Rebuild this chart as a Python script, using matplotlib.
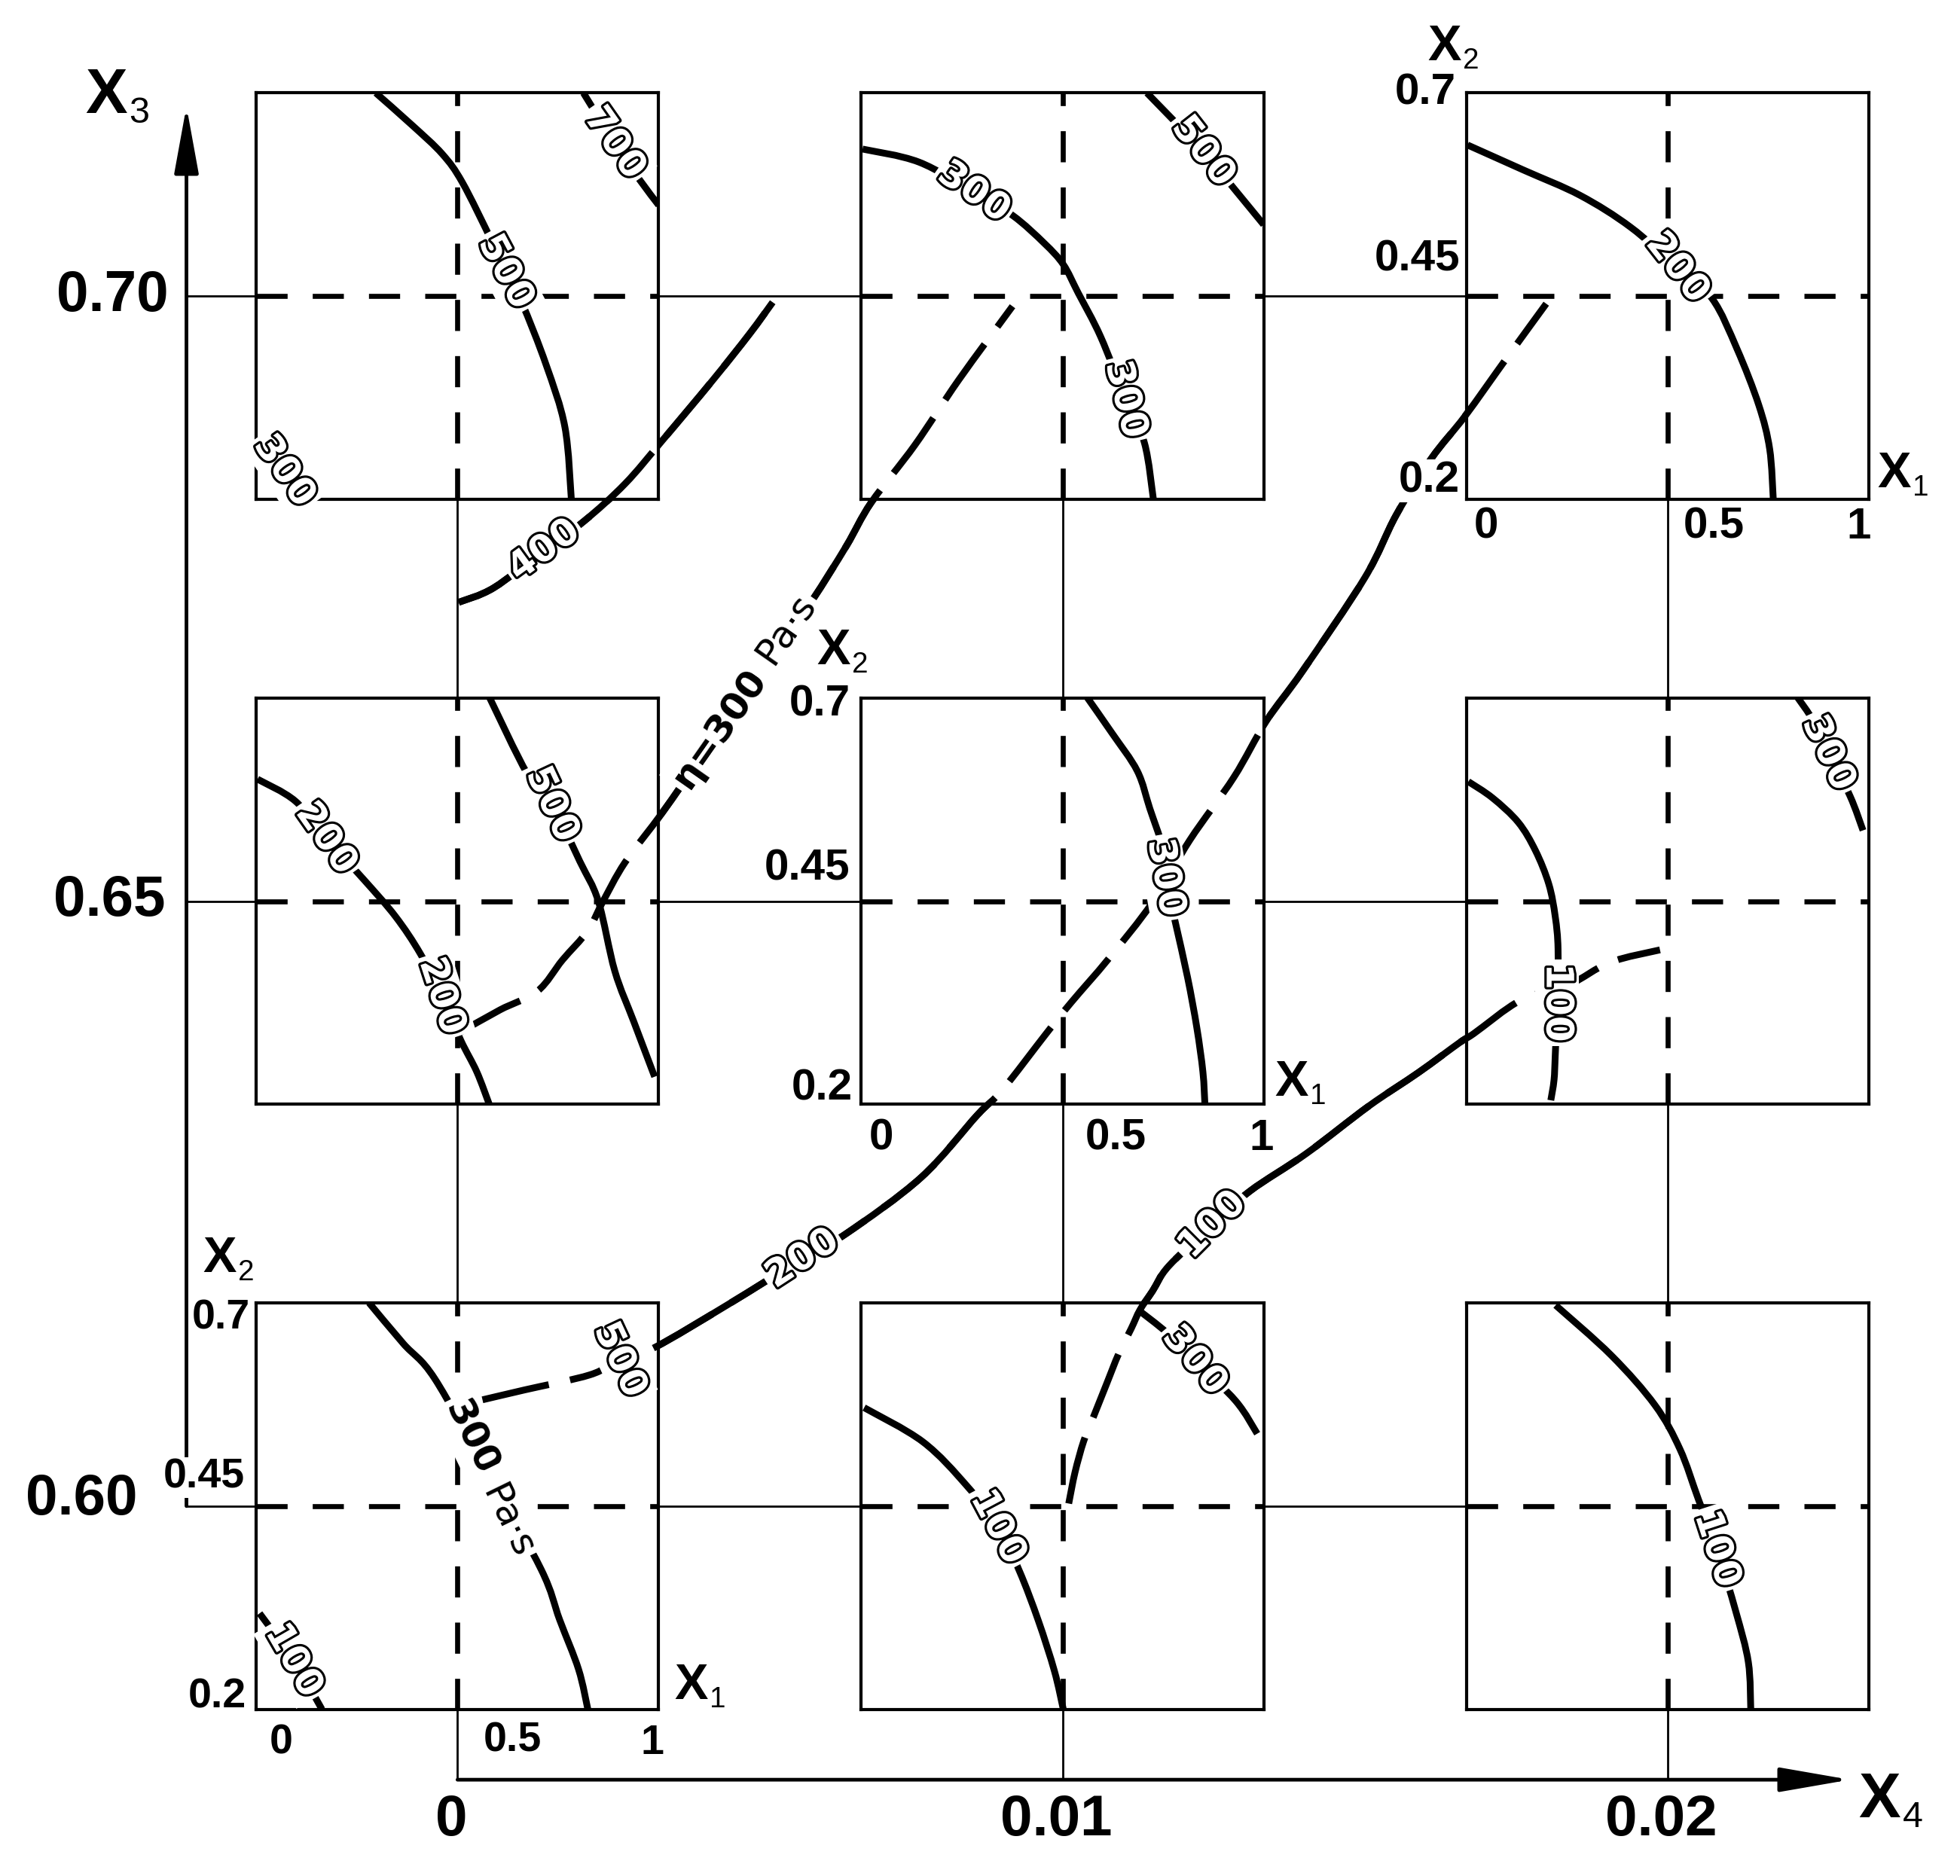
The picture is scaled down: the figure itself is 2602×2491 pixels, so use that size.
import matplotlib
matplotlib.use('Agg')
import matplotlib.pyplot as plt
import matplotlib.patheffects as pe
from matplotlib import font_manager
from matplotlib.path import Path
from matplotlib.patches import PathPatch

plt.rcParams['font.family'] = ['Liberation Sans', 'DejaVu Sans']
installed = {f.name for f in font_manager.fontManager.ttflist}
narrow_font = 'Liberation Sans Narrow' if 'Liberation Sans Narrow' in installed else 'Liberation Sans'

# outer factors: X4 along columns, X3 along rows
x4_levels = [0.0, 0.01, 0.02]
x3_levels = [0.60, 0.65, 0.70]
x4_labels = ['0', '0.01', '0.02']
x3_labels = ['0.60', '0.65', '0.70']

# inner panels: X1 across, X2 up
x1_lim = (0.0, 1.0)
x2_lim = (0.2, 0.7)
x1_center = 0.5
x2_center = 0.45
x1_ticklabels = ['0', '0.5', '1']
x2_ticklabels = ['0.2', '0.45', '0.7']

# panel size in outer units
panel_w = 0.00665
panel_h = 0.0336

# ---- contour lines inside the panels (X1, X2) ----
# X4 = 0, X3 = 0.70
tl_500 = [(0.297, 0.70), (0.388, 0.660), (0.462, 0.625), (0.512, 0.590), (0.584, 0.519),
          (0.62, 0.48), (0.66, 0.442), (0.72, 0.366), (0.767, 0.289), (0.783, 0.20)]
tl_700 = [(0.813, 0.70), (0.891, 0.638), (0.95, 0.595), (1.0, 0.562)]
tl_300 = [(0.0, 0.273), (0.07, 0.235), (0.128, 0.20)]
# X4 = 0.01, X3 = 0.70
tm_300 = [(0.003, 0.631), (0.143, 0.615), (0.280, 0.578), (0.377, 0.549), (0.455, 0.515),
          (0.502, 0.489), (0.539, 0.454), (0.595, 0.400), (0.657, 0.323), (0.704, 0.269),
          (0.726, 0.20)]
tm_500 = [(0.710, 0.70), (0.850, 0.628), (0.922, 0.585), (1.0, 0.538)]
# X4 = 0.02, X3 = 0.70
tr_200 = [(0.003, 0.636), (0.143, 0.605), (0.283, 0.574), (0.408, 0.535), (0.525, 0.485),
          (0.611, 0.447), (0.673, 0.385), (0.727, 0.316), (0.754, 0.262), (0.763, 0.20)]
# X4 = 0, X3 = 0.65
ml_200 = [(0.003, 0.600), (0.097, 0.573), (0.174, 0.527), (0.268, 0.476), (0.346, 0.431),
          (0.408, 0.385), (0.461, 0.333), (0.508, 0.279), (0.548, 0.240), (0.579, 0.20)]
ml_500 = [(0.58, 0.70), (0.673, 0.607), (0.735, 0.569), (0.804, 0.499), (0.850, 0.45),
          (0.891, 0.364), (0.938, 0.302), (0.99, 0.234)]
# X4 = 0.01, X3 = 0.65
mm_300 = [(0.562, 0.70), (0.624, 0.656), (0.686, 0.610), (0.717, 0.564), (0.748, 0.517),
          (0.756, 0.479), (0.780, 0.425), (0.811, 0.356), (0.834, 0.294), (0.849, 0.240),
          (0.854, 0.20)]
# X4 = 0.02, X3 = 0.65
mr_100 = [(0.005, 0.597), (0.065, 0.577), (0.129, 0.547), (0.172, 0.512), (0.205, 0.471),
          (0.221, 0.431), (0.228, 0.391), (0.226, 0.325), (0.221, 0.260), (0.218, 0.230),
          (0.210, 0.205)]
mr_300 = [(0.824, 0.70), (0.862, 0.672), (0.900, 0.632), (0.954, 0.579), (0.986, 0.537)]
# X4 = 0, X3 = 0.60
bl_300 = [(0.280, 0.70), (0.365, 0.650), (0.443, 0.607), (0.576, 0.49), (0.708, 0.372),
          (0.754, 0.310), (0.801, 0.249), (0.824, 0.20)]
bl_100 = [(0.008, 0.318), (0.093, 0.260), (0.163, 0.20)]
# X4 = 0.01, X3 = 0.60
bm_100 = [(0.007, 0.571), (0.153, 0.529), (0.262, 0.475), (0.340, 0.424), (0.393, 0.370),
          (0.440, 0.309), (0.480, 0.247), (0.502, 0.20)]
bm_300 = [(0.689, 0.691), (0.760, 0.663), (0.829, 0.629), (0.931, 0.579), (0.984, 0.539)]
# X4 = 0.02, X3 = 0.60
br_100 = [(0.222, 0.697), (0.361, 0.635), (0.469, 0.574), (0.531, 0.520), (0.577, 0.458),
          (0.623, 0.397), (0.670, 0.320), (0.701, 0.258), (0.707, 0.20)]

# ---- iso-viscosity lines across the whole plan (X4, X3) ----
big_400 = [(0.00002, 0.6747), (0.00060, 0.6759), (0.00143, 0.6790), (0.00209, 0.6814),
           (0.00277, 0.6845), (0.00339, 0.6881), (0.00421, 0.6930), (0.00483, 0.6969),
           (0.00521, 0.6995)]
big_300 = [(0.000041, 0.63915), (0.000702, 0.64101), (0.001322, 0.64256), (0.001736, 0.64514),
           (0.002149, 0.64752), (0.002397, 0.64990), (0.002769, 0.65320), (0.003388, 0.65733),
           (0.004008, 0.66178), (0.004669, 0.66663), (0.004979, 0.66891), (0.005351, 0.67128),
           (0.005868, 0.67490), (0.006426, 0.67934), (0.006839, 0.68295), (0.007562, 0.68771),
           (0.008285, 0.69308), (0.009174, 0.69917)]
big_200 = [(0.000413, 0.608781), (0.001116, 0.609607), (0.002190, 0.610847), (0.002686, 0.612087),
           (0.003264, 0.613120), (0.004463, 0.616632), (0.005702, 0.620455), (0.006426, 0.622521),
           (0.007665, 0.627169), (0.008595, 0.632335), (0.009008, 0.634401), (0.009731, 0.639050),
           (0.010145, 0.641632), (0.010764, 0.645248), (0.011488, 0.649897), (0.012107, 0.655062),
           (0.012831, 0.660227), (0.013368, 0.664876), (0.013967, 0.669008), (0.015000, 0.676756),
           (0.015517, 0.681921), (0.016095, 0.686570), (0.016653, 0.690083), (0.017335, 0.694835),
           (0.017996, 0.699380)]
big_100 = [(0.010103, 0.600207), (0.010207, 0.602789), (0.010351, 0.605372), (0.010517, 0.607438),
           (0.010723, 0.610021), (0.010930, 0.612603), (0.011136, 0.614669), (0.011281, 0.616219),
           (0.011488, 0.617769), (0.011756, 0.619835), (0.012479, 0.623244), (0.013099, 0.626033),
           (0.014029, 0.629132), (0.015062, 0.633058), (0.015888, 0.635847), (0.016570, 0.638326),
           (0.016798, 0.639050), (0.017583, 0.641839), (0.018368, 0.643079), (0.019050, 0.644938),
           (0.019876, 0.645971)]

fig = plt.figure(figsize=(26.02, 24.91), dpi=100)
ax = fig.add_axes([0, 0, 1, 1])
ax.set_xlim(-0.007562, 0.024835)
ax.set_ylim(0.569421, 0.724483)
ax.axis('off')

x3_axis_x = -0.00448
x4_axis_y = 0.57738


def smooth_path(pts):
    # Catmull-Rom through the read points, drawn as cubic Bezier segments
    p = [pts[0]] + list(pts) + [pts[-1]]
    verts = [pts[0]]
    codes = [Path.MOVETO]
    for i in range(1, len(p) - 2):
        p0, p1, p2, p3 = p[i - 1], p[i], p[i + 1], p[i + 2]
        c1 = (p1[0] + (p2[0] - p0[0]) / 6, p1[1] + (p2[1] - p0[1]) / 6)
        c2 = (p2[0] - (p3[0] - p1[0]) / 6, p2[1] - (p3[1] - p1[1]) / 6)
        verts += [c1, c2, p2]
        codes += [Path.CURVE4] * 3
    return Path(verts, codes)


def draw_curve(target, pts, lw=6.5, zorder=2, dashes=None):
    ls = '-' if dashes is None else (0, dashes)
    patch = PathPatch(smooth_path(pts), fill=False, edgecolor='black', lw=lw, ls=ls,
                      zorder=zorder, joinstyle='round', capstyle='butt')
    target.add_patch(patch)


def curve_label(trans, pt, text, rot, size=36):
    t = ax.text(pt[0], pt[1], text, transform=trans, rotation=rot, rotation_mode='anchor',
                ha='center', va='center', fontsize=size, family='DejaVu Sans',
                fontweight='bold', color='white', zorder=9, clip_on=False,
                bbox=dict(boxstyle='square,pad=0.1', fc='white', ec='none'))
    t.set_path_effects([pe.withStroke(linewidth=4.5, foreground='black')])


def unit_label(trans, pt, value, rot, size=36):
    # bold value before the anchor, unit after it, both turned about the same point
    kw = dict(transform=trans, rotation=rot, rotation_mode='anchor', va='center',
              fontsize=size, family='DejaVu Sans', zorder=9, clip_on=False,
              bbox=dict(boxstyle='square,pad=0.12', fc='white', ec='none'))
    ax.text(pt[0], pt[1], value, ha='right', fontweight='bold', **kw)
    ax.text(pt[0], pt[1], ' Pa·s', ha='left', **kw)


def x_label(trans, pt, sub, size):
    ax.annotate('X', pt, xycoords=trans, ha='left', va='center', fontsize=size,
                fontweight='bold', zorder=9, annotation_clip=False)
    ax.annotate(sub, pt, xycoords=trans, xytext=(size * 0.7, -size * 0.27),
                textcoords='offset points', ha='left', va='center', fontsize=size * 0.58,
                zorder=9, annotation_clip=False)


# thin connecting grid between panels
for x3 in x3_levels:
    ax.plot([x3_axis_x, x4_levels[-1] + panel_w / 2], [x3, x3], color='black', lw=2, zorder=1)
for x4 in x4_levels:
    ax.plot([x4, x4], [x4_axis_y, x3_levels[-1] + panel_h / 2], color='black', lw=2, zorder=1)

# axes arrows
ax.annotate('', xy=(x3_axis_x, 0.7157), xytext=(x3_axis_x, x3_levels[0]),
            arrowprops=dict(arrowstyle='-|>,head_length=1.1,head_width=0.2', lw=3.5,
                            color='black', mutation_scale=50, shrinkA=0, shrinkB=0), zorder=3)
ax.annotate('', xy=(0.023017, x4_axis_y), xytext=(x4_levels[0], x4_axis_y),
            arrowprops=dict(arrowstyle='-|>,head_length=1.15,head_width=0.2', lw=3.5,
                            color='black', mutation_scale=50, shrinkA=0, shrinkB=0), zorder=3)

# outer tick labels
for x3, lab, xr in zip(x3_levels, x3_labels, [-0.00529, -0.004835, -0.004773]):
    ax.text(xr, x3 + (0.0005 if x3 == 0.60 else 0), lab, ha='right', va='center',
            fontsize=55, fontweight='bold')
for x4, lab in zip(x4_levels, x4_labels):
    ax.text(x4 - 0.0001, 0.5740, lab, ha='center', va='center', fontsize=55, fontweight='bold')
x_label(ax.transData, (-0.006157, 0.71653), '3', 60)
x_label(ax.transData, (0.023161, 0.57562), '4', 60)


def make_panel(x4, x3):
    a = ax.inset_axes([x4 - panel_w / 2, x3 - panel_h / 2, panel_w, panel_h],
                      transform=ax.transData, zorder=5)
    a.set_xlim(*x1_lim)
    a.set_ylim(*x2_lim)
    a.set_xticks([])
    a.set_yticks([])
    a.set_facecolor('white')
    for s in a.spines.values():
        s.set_linewidth(3)
    a.axhline(x2_center, color='black', lw=4.8, dashes=(6.2, 5.0))
    a.axvline(x1_center, color='black', lw=4.8, dashes=(6.2, 5.0))
    return a


panels = [
    (0.00, 0.70, [(tl_500, [(5, '500', -62)]), (tl_700, [(1, '700', -55)]),
                  (tl_300, [(1, '300', -55)])]),
    (0.01, 0.70, [(tm_300, [(2, '300', -35), (8, '300', -76)]), (tm_500, [(1, '500', -52)])]),
    (0.02, 0.70, [(tr_200, [(4, '200', -52)])]),
    (0.00, 0.65, [(ml_200, [(2, '200', -55), (6, '200', -72)]), (ml_500, [(2, '500', -65)])]),
    (0.01, 0.65, [(mm_300, [(5, '300', -80)])]),
    (0.02, 0.65, [(mr_100, [(7, '100', -90)]), (mr_300, [(2, '300', -65)])]),
    (0.00, 0.60, [(bl_300, []), (bl_100, [(1, '100', -60)])]),
    (0.01, 0.60, [(bm_100, [(3, '100', -62)]), (bm_300, [(2, '300', -50)])]),
    (0.02, 0.60, [(br_100, [(5, '100', -72)])]),
]

insets = {}
for x4, x3, curves in panels:
    a = make_panel(x4, x3)
    insets[(x4, x3)] = a
    for pts, labs in curves:
        draw_curve(a, pts)
        for idx, txt, rot in labs:
            curve_label(a.transData, pts[idx], txt, rot)

bl = insets[(0.00, 0.60)]
unit_label(bl.transData, bl_300[3], '300', -64)

# panel tick labels (only three panels carry them)
tick_specs = [
    ((0.02, 0.70), 42, 'Liberation Sans', [(-0.016, 0.223), (-0.016, 0.495), (-0.025, 0.70)],
     [(0.05, 0.166), (0.616, 0.166), (0.975, 0.166)], (-0.096, 0.756), (1.022, 0.231)),
    ((0.01, 0.65), 42, 'Liberation Sans', [(-0.022, 0.219), (-0.028, 0.490), (-0.028, 0.692)],
     [(0.05, 0.158), (0.632, 0.158), (0.994, 0.158)], (-0.11, 0.757), (1.028, 0.226)),
    ((0.00, 0.60), 40, narrow_font, [(-0.025, 0.215), (-0.028, 0.485), (-0.016, 0.681)],
     [(0.062, 0.158), (0.637, 0.161), (0.984, 0.158)], (-0.132, 0.754), (1.04, 0.228)),
]
for key, size, fam, ypos, xpos, x2pos, x1pos in tick_specs:
    a = insets[key]
    for lab, p in zip(x2_ticklabels, ypos):
        ax.text(p[0], p[1], lab, transform=a.transData, ha='right', va='center', fontsize=size,
                family=fam, fontweight='bold', zorder=9, clip_on=False,
                bbox=dict(boxstyle='square,pad=0.02', fc='white', ec='none'))
    for lab, p in zip(x1_ticklabels, xpos):
        ax.text(p[0], p[1], lab, transform=a.transData, ha='center', va='center', fontsize=size,
                family=fam, fontweight='bold', zorder=9, clip_on=False)
    x_label(a.transData, x2pos, '2', 48)
    x_label(a.transData, x1pos, '1', 48)

# iso-viscosity lines: solid between panels, dashed where they cross a panel
big_curves = [
    (big_400, [(2, '400', 36)]),
    (big_300, []),
    (big_200, [(3, '500', -65), (6, '200', 33)]),
    (big_100, [(10, '100', 45)]),
]
for pts, labs in big_curves:
    draw_curve(ax, pts, zorder=2)
    draw_curve(ax, pts, zorder=6, dashes=(10, 3.2))
    for idx, txt, rot in labs:
        curve_label(ax.transData, pts[idx], txt, rot)

unit_label(ax.transData, big_300[10], 'η=300', 55)

fig.savefig('out.png', dpi=100, facecolor='white')
